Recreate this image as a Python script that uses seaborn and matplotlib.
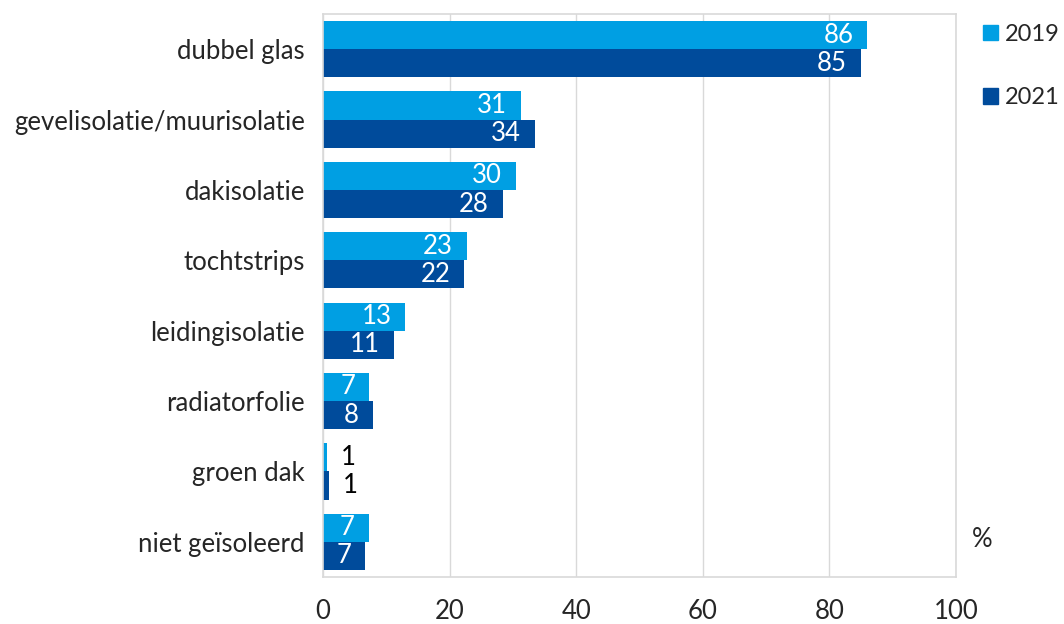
import matplotlib
matplotlib.use("Agg")
import matplotlib.pyplot as plt
import matplotlib.patches as mpatches
import seaborn as sns
import pandas as pd

categories = ["dubbel glas", "gevelisolatie/muurisolatie", "dakisolatie", "tochtstrips",
              "leidingisolatie", "radiatorfolie", "groen dak", "niet geïsoleerd"]
vals_2019 = [86, 31.3, 30.5, 22.7, 13, 7.3, 0.6, 7.2]
vals_2021 = [85, 33.5, 28.4, 22.3, 11.2, 7.9, 1.0, 6.7]
labels_2019 = [86, 31, 30, 23, 13, 7, 1, 7]
labels_2021 = [85, 34, 28, 22, 11, 8, 1, 7]
years = ["2019", "2021"]
colors = ["#009FE3", "#004B9B"]

df = pd.concat([
    pd.DataFrame({"cat": categories, "val": vals_2019, "year": "2019"}),
    pd.DataFrame({"cat": categories, "val": vals_2021, "year": "2021"}),
])

sns.set_theme(style="white")
plt.rcParams["font.family"] = ["Lato", "DejaVu Sans"]
fs = 18.5

fig = plt.figure(figsize=(10.64, 6.24), dpi=100)
ax = fig.add_axes([0.3036, 0.0753, 0.5949, 0.9023])

sns.barplot(data=df, x="val", y="cat", hue="year", order=categories,
            hue_order=years, palette=colors, orient="h", width=0.8,
            saturation=1, legend=False, linewidth=0, ax=ax)

# value labels: inside bar end in white, outside in black for tiny bars
for cont, labs in zip(ax.containers, [labels_2019, labels_2021]):
    for bar, lab in zip(cont, labs):
        w = bar.get_width()
        yc = bar.get_y() + bar.get_height() / 2
        if w < 3:
            ax.annotate(str(lab), (w, yc), xytext=(10, 0), textcoords="offset points",
                        ha="left", va="center", fontsize=fs, color="black")
        else:
            ax.annotate(str(lab), (w, yc), xytext=(-10, 0), textcoords="offset points",
                        ha="right", va="center", fontsize=fs, color="white")

ax.set_xlim(0, 100)
ax.set_xticks([0, 20, 40, 60, 80, 100])
ax.grid(axis="x", color="#D9D9D9", linewidth=1)
ax.set_axisbelow(True)
for s in ax.spines.values():
    s.set_visible(True)
    s.set_color("#D9D9D9")
    s.set_linewidth(1.2)
ax.set_xlabel("")
ax.set_ylabel("")
ax.tick_params(axis="x", labelsize=fs, pad=16, length=0)
ax.tick_params(axis="y", labelsize=fs, pad=13, length=0)

handles = [mpatches.Patch(color=c, label=y) for c, y in zip(colors, years)]
fig.legend(handles=handles, loc="upper left", bbox_to_anchor=(0.924, 0.962),
           frameon=False, fontsize=17, handlelength=0.65, handleheight=0.65,
           handletextpad=0.25, labelspacing=1.8, borderaxespad=0, borderpad=0)
fig.text(0.913, 0.135, "%", fontsize=fs, ha="left", va="center")

fig.savefig("out.png", dpi=100)
